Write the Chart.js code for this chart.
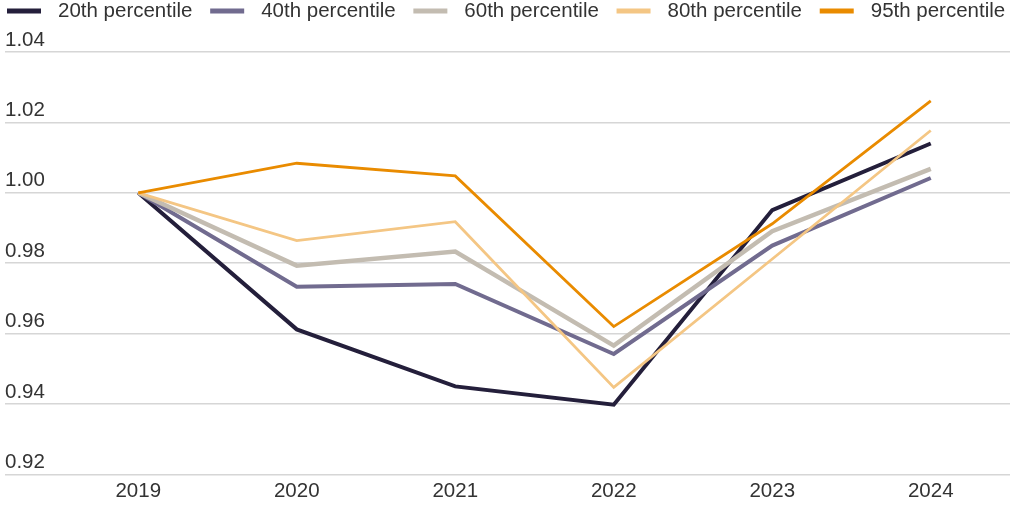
<!DOCTYPE html>
<html>
<head>
<meta charset="utf-8">
<script src="https://cdn.jsdelivr.net/npm/chart.js@4/dist/chart.umd.min.js"></script>
<style>
  html, body { margin: 0; padding: 0; background: #ffffff; }
  #wrap { width: 1024px; height: 512px; position: relative; }
</style>
</head>
<body>
<div id="wrap"><canvas id="c"></canvas></div>
<script>
const years = ["2019", "2020", "2021", "2022", "2023", "2024"];
const p20 = [1.000, 0.9612, 0.9450, 0.9398, 0.9951, 1.0140];
const p40 = [1.000, 0.9733, 0.9741, 0.9542, 0.9850, 1.0042];
const p60 = [1.000, 0.9793, 0.9833, 0.9566, 0.9891, 1.0068];
const p80 = [1.000, 0.9864, 0.9918, 0.9447, 0.9812, 1.0177];
const p95 = [1.000, 1.0084, 1.0048, 0.9620, 0.9912, 1.0261];
const seriesNames = ["20th percentile", "40th percentile", "60th percentile", "80th percentile", "95th percentile"];
const yMin = 0.92, yMax = 1.04, yStep = 0.02;

const colors = ["#241f3b", "#716b8f", "#c3bcb1", "#f4c684", "#e98b00"];
const widths = [4, 4, 4.5, 2.8, 2.8];
const FONT = "'Liberation Sans', Arial, sans-serif";
const FS = 20.5;
const TEXT = "#333333";
const GRID = "#d6d6d6";

const seriesData = [p20, p40, p60, p80, p95];

const legendPlugin = {
  id: 'customLegend',
  afterDraw(chart) {
    const ctx = chart.ctx;
    ctx.save();
    ctx.font = FS + "px " + FONT;
    ctx.textBaseline = "middle";
    ctx.textAlign = "left";
    let x = 7;
    const yc = 11;
    chart.data.datasets.forEach((ds) => {
      ctx.fillStyle = ds.borderColor;
      ctx.fillRect(x, yc - 2.5, 34, 5);
      x += 34 + 17;
      ctx.fillStyle = TEXT;
      ctx.fillText(ds.label, x, yc);
      x += ctx.measureText(ds.label).width + 17.7;
    });
    ctx.restore();
  }
};

const datasets = seriesNames.map((name, i) => ({
  label: name,
  data: seriesData[i],
  borderColor: colors[i],
  backgroundColor: colors[i],
  borderWidth: widths[i],
  pointRadius: 0,
  pointHoverRadius: 0,
  tension: 0,
  fill: false,
  order: 5 - i
}));

new Chart(document.getElementById("c"), {
  type: "line",
  data: { labels: years, datasets },
  plugins: [legendPlugin],
  options: {
    responsive: true,
    maintainAspectRatio: false,
    animation: false,
    devicePixelRatio: 1,
    layout: { padding: { top: 52, left: 5, right: 14, bottom: 3 } },
    plugins: {
      legend: { display: false },
      tooltip: { enabled: false }
    },
    scales: {
      x: {
        offset: true,
        grid: { display: false, drawTicks: false },
        border: { display: false },
        ticks: {
          color: TEXT,
          font: { family: FONT, size: FS },
          padding: 5,
          maxRotation: 0
        }
      },
      y: {
        min: yMin,
        max: yMax,
        afterFit(scale) { scale.width = 54; },
        grid: { color: GRID, lineWidth: 1.5, tickLength: 54, tickColor: GRID, tickWidth: 1.5 },
        border: { display: false },
        ticks: {
          stepSize: yStep,
          color: TEXT,
          font: { family: FONT, size: FS },
          crossAlign: "far",
          labelOffset: -12,
          padding: 0,
          callback: (v) => Number(v).toFixed(2)
        }
      }
    }
  }
});
</script>
</body>
</html>
